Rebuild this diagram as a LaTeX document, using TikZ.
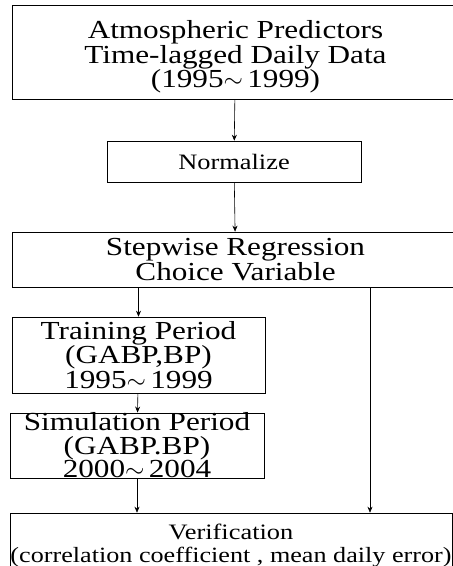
\documentclass[tikz,border=0pt]{standalone}
\usepackage{fontspec}
\setmainfont{Liberation Serif}[FakeStretch=1.2]
\usetikzlibrary{arrows.meta,positioning}

\begin{document}
\begin{tikzpicture}[x=1pt,y=-1pt,->,>={Stealth[length=6pt,width=5pt]},line width=0.6pt,
  box/.style={draw,inner sep=0pt,align=center,font=\fontsize{26}{24.5}\selectfont},
  midbox/.style={box,font=\fontsize{22}{23}\selectfont}]

    \useasboundingbox (0,0) rectangle (453,566);

    % The boxes
	\node [box,minimum width=447,minimum height=94] at (235.5,52) (pred) {\rule{0pt}{28pt}Atmospheric Predictors\\Time-lagged Daily Data\\(1995$\sim$\,1999)};
	\node [midbox,minimum width=254,minimum height=41] at (234,161.5) (norm) {Normalize};
	\node [box,minimum width=447,minimum height=55] at (235.5,259.5) (step) {Stepwise Regression\\Choice Variable};
	\node [box,minimum width=253,minimum height=76] at (138.5,355) (train) {Training Period\\(GABP,BP)\\1995$\sim$\,1999};
	\node [box,minimum width=254,minimum height=65,font=\fontsize{26}{23.5}\selectfont] at (137,445.5) (sim) {Simulation Period\\(GABP.BP)\\2000$\sim$\,2004};
	\node [midbox,minimum width=442,minimum height=66] at (231,546) (verif) {Verification\\{\fontsize{21.8}{22}\selectfont(correlation coefficient , mean daily error)}};
	\coordinate (side) at (370,0);

	% Graph edges
	\path[->]
	(pred) edge (norm)
	(norm) edge (step)
	(step.south -| train.north) edge (train.north)
	(train) edge (sim)
	(sim.south) edge (verif.north -| sim.south)
	(step.south -| side) edge (verif.north -| side);

\end{tikzpicture}
\end{document}
